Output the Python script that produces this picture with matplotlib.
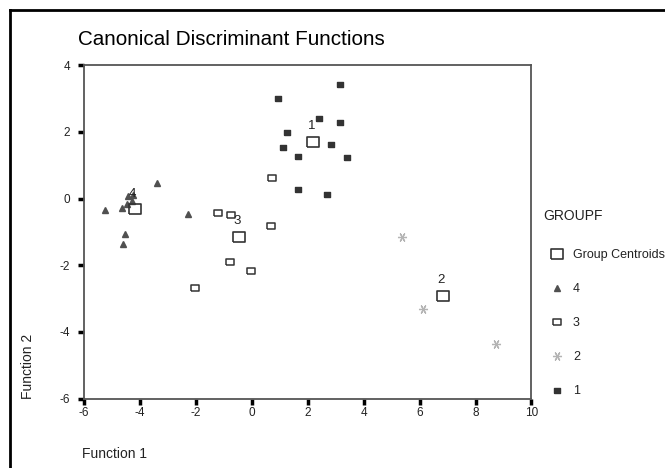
import numpy as np
import matplotlib.pyplot as plt
from matplotlib.lines import Line2D

plt.rcParams['font.family'] = ['Liberation Sans', 'DejaVu Sans']

# discriminant scores per group (Function 1, Function 2)
g1_x = [3.15, 0.95, 2.40, 3.15, 1.25, 1.13, 2.83, 1.66, 3.41, 1.66, 2.68]
g1_y = [3.43, 3.03, 2.43, 2.29, 2.00, 1.55, 1.64, 1.28, 1.24, 0.28, 0.13]
g2_x = [5.38, 6.13, 8.73]
g2_y = [-1.15, -3.31, -4.35]
g3_x = [0.73, -1.21, -0.74, 0.70, -0.77, -0.02, -2.02]
g3_y = [0.62, -0.44, -0.49, -0.83, -1.90, -2.16, -2.67]
g4_x = [-3.40, -5.25, -4.65, -4.53, -4.59, -2.27, -4.42, -4.29, -4.47, -4.25]
g4_y = [0.46, -0.34, -0.28, -1.07, -1.37, -0.46, 0.08, -0.07, -0.16, 0.10]

# group centroids
cent_labels = ['1', '2', '3', '4']
cent_x = [2.20, 6.84, -0.45, -4.19]
cent_y = [1.71, -2.91, -1.14, -0.32]

ticks = [-6, -4, -2, 0, 2, 4, 6, 8, 10]
yticks = [-6, -4, -2, 0, 2, 4]

fig = plt.figure(figsize=(6.65, 4.68), dpi=100)
ax = fig.add_axes([0.1263, 0.1485, 0.6729, 0.712])

rect = [(-1, -0.72), (1, -0.72), (1, 0.72), (-1, 0.72), (-1, -0.72)]
box = [(-1, -0.8), (1, -0.8), (1, 0.8), (-1, 0.8), (-1, -0.8)]
dark = '#333333'

p1, = ax.plot(g1_x, g1_y, ls='none', marker=rect, ms=5, mfc=dark, mec=dark)
p2, = ax.plot(g2_x, g2_y, ls='none', marker=(6, 2, 90), ms=6.5, mec='#b4b4b4', mew=0.9)
p3, = ax.plot(g3_x, g3_y, ls='none', marker=rect, ms=5.2, mfc='white', mec=dark, mew=1.1)
p4, = ax.plot(g4_x, g4_y, ls='none', marker='^', ms=4, mfc='#505050', mec='#505050')
pc, = ax.plot(cent_x, cent_y, ls='none', marker=box, ms=8.7, mfc='none', mec=dark, mew=1.2)

for lab, cx, cy in zip(cent_labels, cent_x, cent_y):
    ax.annotate(lab, (cx, cy), xytext=(-1.5, 11), textcoords='offset points',
                ha='center', va='center', fontsize=9.5, color='#222222')

ax.set_xlim(-6, 10)
ax.set_ylim(-6, 4)
ax.set_xticks(ticks)
ax.set_xticklabels([str(t) for t in ticks])
ax.set_yticks(yticks)
ax.set_yticklabels([str(t) for t in yticks])
ax.tick_params(direction='out', length=4, width=2.5, color='black',
               labelsize=8.5, labelcolor='#222222')
ax.tick_params(axis='x', pad=2)
ax.tick_params(axis='y', pad=6)
for s in ax.spines.values():
    s.set_color('#555555')
    s.set_linewidth(1.3)

fig.text(0.1173, 0.916, 'Canonical Discriminant Functions', fontsize=14.9,
         ha='left', va='center', color='black')
fig.text(0.124, 0.03, 'Function 1', fontsize=10, ha='left', va='center', color='#222222')
fig.text(0.042, 0.1485, 'Function 2', fontsize=10, rotation=90,
         ha='center', va='bottom', color='#222222')

# legend title sits a little left of the entries
fig.text(0.8165, 0.538, 'GROUPF', fontsize=10, ha='left', va='center', color='#222222')
handles = [pc, p4, p3, p2, p1]
labels = ['Group Centroids', '4', '3', '2', '1']
leg = fig.legend(handles, labels, loc='upper left',
                 bbox_to_anchor=(0.8286, 0.468), frameon=False, fontsize=9,
                 labelspacing=1.77, handlelength=1.0, handletextpad=0.76,
                 borderpad=0, borderaxespad=0)
for t in leg.get_texts():
    t.set_color('#222222')

# outer frame lines along the top and left
fig.add_artist(Line2D([0.015, 1.0], [0.979, 0.979], color='black', lw=2))
fig.add_artist(Line2D([0.015, 0.015], [0.0, 0.979], color='black', lw=2))

fig.savefig('out.png', dpi=100)
